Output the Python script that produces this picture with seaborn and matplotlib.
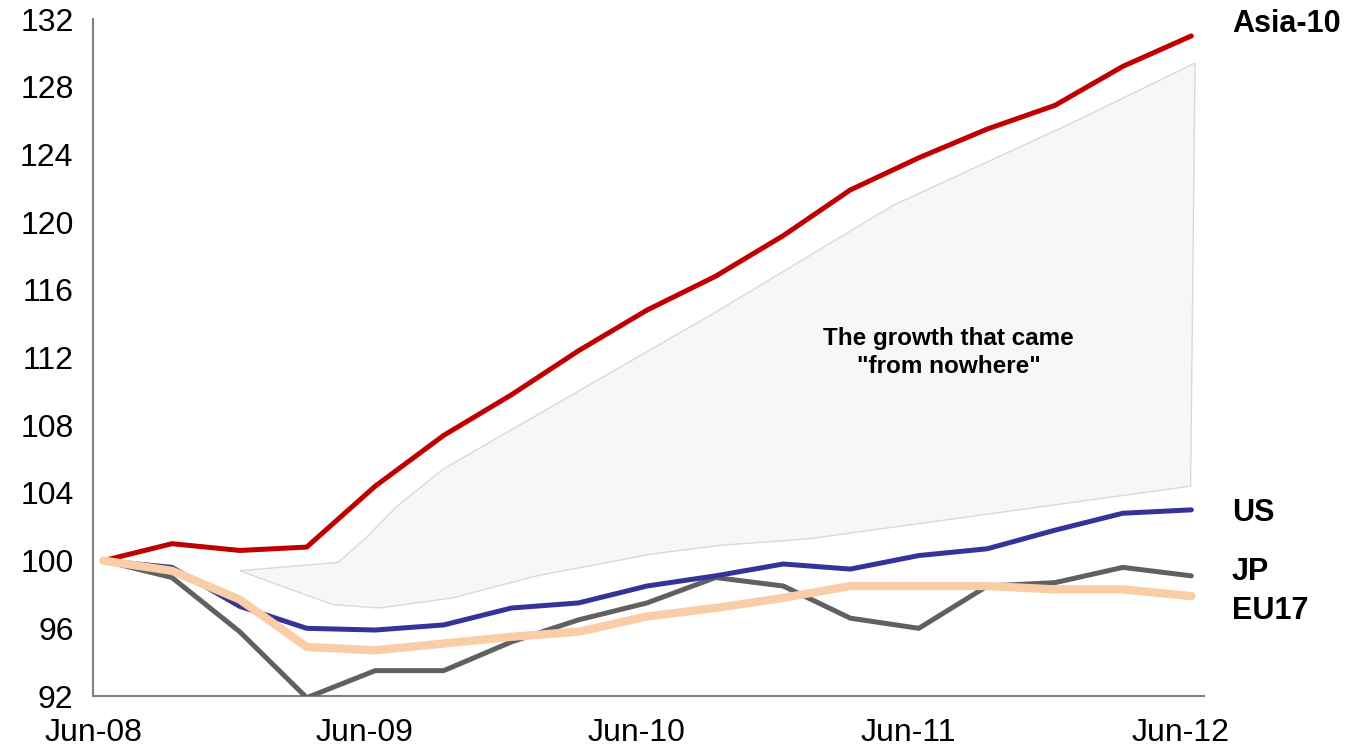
import pandas as pd
import matplotlib.pyplot as plt
import matplotlib.dates as mdates
import seaborn as sns

# --- data (index, Jun-08 = 100), quarterly
quarters = ["2008-06-15", "2008-09-15", "2008-12-15", "2009-03-15", "2009-06-15",
            "2009-09-15", "2009-12-15", "2010-03-15", "2010-06-15", "2010-09-15",
            "2010-12-15", "2011-03-15", "2011-06-15", "2011-09-15", "2011-12-15",
            "2012-03-15", "2012-06-15"]
asia10 = [100.0, 101.0, 100.6, 100.8, 104.4, 107.4, 109.8, 112.4, 114.8, 116.8,
          119.2, 121.9, 123.8, 125.5, 126.9, 129.2, 131.0]
us = [100.0, 99.6, 97.3, 96.0, 95.9, 96.2, 97.2, 97.5, 98.5, 99.1,
      99.8, 99.5, 100.3, 100.7, 101.8, 102.8, 103.0]
jp = [100.0, 99.0, 95.8, 91.9, 93.5, 93.5, 95.2, 96.5, 97.5, 99.0,
      98.5, 96.6, 96.0, 98.5, 98.7, 99.6, 99.1]
eu17 = [100.0, 99.4, 97.7, 94.9, 94.7, 95.1, 95.5, 95.8, 96.7, 97.2,
        97.8, 98.5, 98.5, 98.5, 98.3, 98.3, 97.9]

# shaded "growth from nowhere" band outline
band_top_dates = ["2008-12-15", "2009-04-26", "2009-05-30", "2009-07-14", "2009-09-14",
                  "2010-09-12", "2011-05-12", "2012-01-04", "2012-06-20"]
band_top = [99.4, 99.9, 101.2, 103.2, 105.4, 114.6, 121.0, 125.8, 129.4]
band_low_dates = ["2008-12-15", "2009-04-19", "2009-06-21", "2009-09-27", "2010-01-18",
                  "2010-06-23", "2010-09-21", "2011-01-20", "2012-06-14"]
band_low = [99.4, 97.4, 97.2, 97.8, 99.1, 100.4, 100.9, 101.3, 104.4]

tick_dates = ["2008-06-01", "2009-06-01", "2010-06-01", "2011-06-01", "2012-06-01"]
tick_labels = ["Jun-08", "Jun-09", "Jun-10", "Jun-11", "Jun-12"]
yticks = list(range(92, 133, 4))

df = pd.DataFrame({"date": pd.to_datetime(quarters), "Asia-10": asia10,
                   "US": us, "JP": jp, "EU17": eu17})

sns.set_style("white")
plt.rcParams["font.family"] = ["Liberation Sans", "DejaVu Sans"]
plt.rcParams["text.color"] = "black"

fig = plt.figure(figsize=(13.46, 7.51), dpi=100)
ax = fig.add_axes([0.0691, 0.0732, 0.8254, 0.9015])

# band
bx = list(pd.to_datetime(band_top_dates)) + list(pd.to_datetime(band_low_dates))[::-1]
by = band_top + band_low[::-1]
ax.fill(mdates.date2num(bx), by, facecolor="#F7F7F7", edgecolor="#D9D9D9", lw=1, zorder=1)

styles = [("Asia-10", "#C00000", 3.6), ("JP", "#606060", 3.6),
          ("US", "#333399", 3.6), ("EU17", "#F9CDA6", 6.0)]
for name, col, lw in styles:
    sns.lineplot(data=df, x="date", y=name, color=col, lw=lw, ax=ax,
                 solid_capstyle="round", zorder=3)

# end labels
labels = [("Asia-10", 131.7), ("US", 102.8), ("JP", 99.3), ("EU17", 97.0)]
for txt, yv in labels:
    ax.text(1.025, yv, txt, transform=ax.get_yaxis_transform(), fontsize=22,
            fontweight="bold", va="center", ha="left", clip_on=False, color="black")

ax.text(pd.Timestamp("2011-07-25"), 112.3, 'The growth that came\n"from nowhere"',
        fontsize=17.5, fontweight="bold", ha="center", va="center", linespacing=1.3,
        color="black")

ax.set_xlim(pd.Timestamp("2008-06-01"), pd.Timestamp("2012-07-02"))
ax.set_ylim(92, 132)
ax.set_xticks(pd.to_datetime(tick_dates))
ax.set_xticklabels(tick_labels)
ax.set_yticks(yticks)
ax.set_xlabel("")
ax.set_ylabel("")

for s in ["top", "right"]:
    ax.spines[s].set_visible(False)
for s in ["left", "bottom"]:
    ax.spines[s].set_color("#808080")
    ax.spines[s].set_linewidth(1.5)
ax.tick_params(axis="both", direction="out", length=9, width=1.2, color="#404040",
               labelsize=23, labelcolor="black", pad=5)
ax.tick_params(axis="x", pad=7)

fig.savefig("out.png", dpi=100)
